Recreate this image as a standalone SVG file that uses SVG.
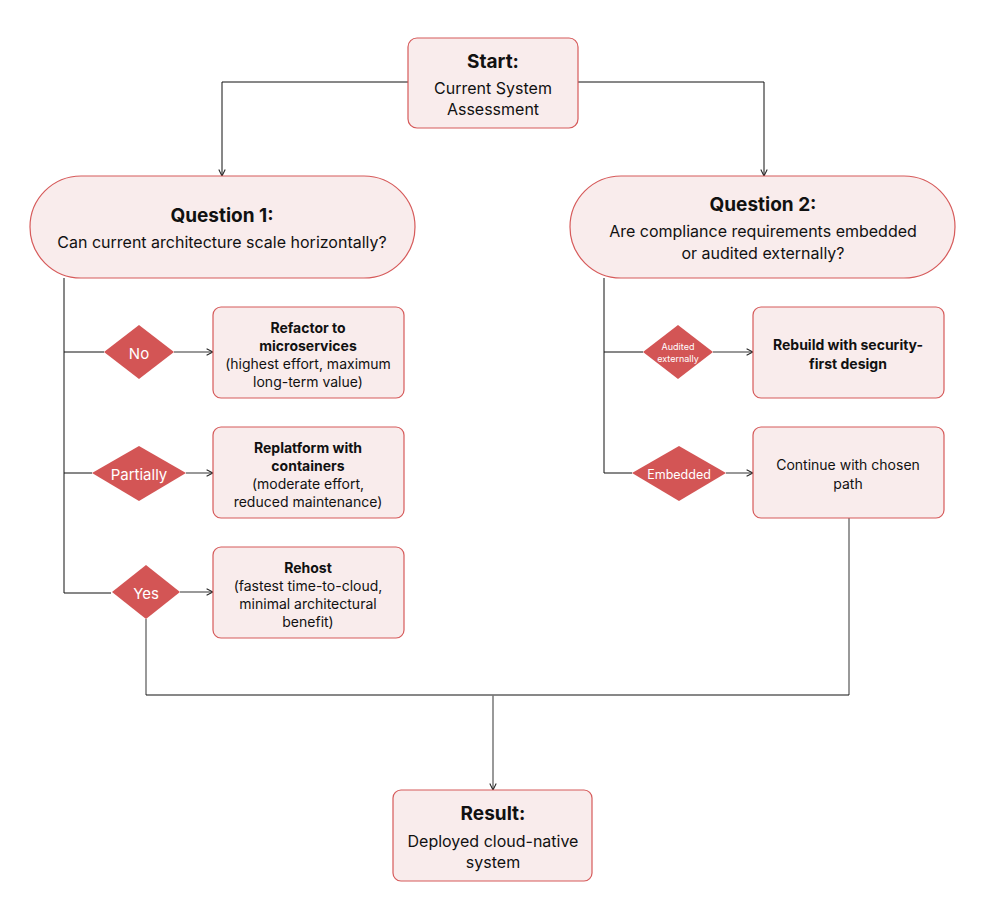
<svg xmlns="http://www.w3.org/2000/svg" width="985" height="919" viewBox="0 0 985 919">
<defs>
<style>
.box{fill:#f9ecec;stroke:#d65a5a;stroke-width:1.2}
.dia{fill:#d35555}
text{font-family:Inter,"DejaVu Sans",sans-serif;fill:#111;text-anchor:middle;dominant-baseline:central}
.t{font-size:19px;font-weight:700}
.s{font-size:16px}
.b{font-size:14px;font-weight:700}
.n{font-size:14px}
.dl{fill:#fff;font-size:15px}
.ln{fill:none;stroke:#111;stroke-width:1}
.gl{fill:none;stroke:#777;stroke-width:1.5}
</style>
<marker id="ar" viewBox="0 0 10 10" refX="9" refY="5" markerWidth="8" markerHeight="8" markerUnits="userSpaceOnUse" orient="auto">
<path d="M1,1 L9,5 L1,9" fill="none" stroke="#222" stroke-width="1.3"/>
</marker>
</defs>
<rect width="985" height="919" fill="#fff"/>
<g id="connectors">
<path class="ln" d="M408,82 H222 V176" marker-end="url(#ar)"/>
<path class="ln" d="M578,82 H764 V176" marker-end="url(#ar)"/>
<path class="ln" d="M64,278 V593 H111"/>
<path class="ln" d="M64,352 H104"/>
<path class="ln" d="M64,473 H92"/>
<path class="gl" d="M174,352 H213" marker-end="url(#ar)"/>
<path class="gl" d="M186,473 H213" marker-end="url(#ar)"/>
<path class="gl" d="M180,592 H213" marker-end="url(#ar)"/>
<path class="ln" d="M604,278 V473 H632"/>
<path class="ln" d="M604,352 H643"/>
<path class="gl" d="M713,352 H753" marker-end="url(#ar)"/>
<path class="gl" d="M726,473 H753" marker-end="url(#ar)"/>
<path class="gl" d="M146,619 V695"/>
<path class="gl" d="M849,518 V695"/>
<path class="ln" d="M146,695 H849"/>
<path class="gl" d="M493,695 V790" marker-end="url(#ar)"/>
</g>
<g id="start">
<rect class="box" x="408" y="38" width="170" height="90" rx="9"/>
<text class="t" x="493" y="61">Start:</text>
<text class="s" x="493" y="88">Current System</text>
<text class="s" x="493" y="109">Assessment</text>
</g>
<g id="q1">
<rect class="box" x="30" y="176" width="385" height="102" rx="51"/>
<text class="t" x="222" y="215">Question 1:</text>
<text class="s" x="222" y="242">Can current architecture scale horizontally?</text>
</g>
<g id="q2">
<rect class="box" x="570" y="176" width="385" height="102" rx="51"/>
<text class="t" x="763" y="204">Question 2:</text>
<text class="s" x="763" y="231">Are compliance requirements embedded</text>
<text class="s" x="763" y="253">or audited externally?</text>
</g>
<g id="d-no">
<polygon class="dia" points="139,325 174,352 139,379 104,352"/>
<text class="dl" x="139" y="353">No</text>
</g>
<g id="d-partially">
<polygon class="dia" points="139,446 186,473 139,501 92,473"/>
<text class="dl" x="139" y="474">Partially</text>
</g>
<g id="d-yes">
<polygon class="dia" points="146,565 180,592 146,619 112,592"/>
<text class="dl" x="146" y="593">Yes</text>
</g>
<g id="d-audited">
<polygon class="dia" points="678,325 713,352 678,379 643,352"/>
<text class="dl" x="678" y="346" style="font-size:9px">Audited</text>
<text class="dl" x="678" y="358" style="font-size:9px">externally</text>
</g>
<g id="d-embedded">
<polygon class="dia" points="679,446 726,473 679,501 632,473"/>
<text class="dl" x="679" y="474" style="font-size:12.5px">Embedded</text>
</g>
<g id="refactor">
<rect class="box" x="213" y="307" width="191" height="91" rx="8"/>
<text class="b" x="308" y="327">Refactor to</text>
<text class="b" x="308" y="345">microservices</text>
<text class="n" x="308" y="363">(highest effort, maximum</text>
<text class="n" x="308" y="381">long-term value)</text>
</g>
<g id="replatform">
<rect class="box" x="213" y="427" width="191" height="91" rx="8"/>
<text class="b" x="308" y="447">Replatform with</text>
<text class="b" x="308" y="465">containers</text>
<text class="n" x="308" y="483">(moderate effort,</text>
<text class="n" x="308" y="501">reduced maintenance)</text>
</g>
<g id="rehost">
<rect class="box" x="213" y="547" width="191" height="91" rx="8"/>
<text class="b" x="308" y="567">Rehost</text>
<text class="n" x="308" y="585">(fastest time-to-cloud,</text>
<text class="n" x="308" y="603">minimal architectural</text>
<text class="n" x="308" y="621">benefit)</text>
</g>
<g id="rebuild">
<rect class="box" x="753" y="307" width="191" height="91" rx="8"/>
<text class="b" x="848" y="344">Rebuild with security-</text>
<text class="b" x="848" y="363">first design</text>
</g>
<g id="continue">
<rect class="box" x="753" y="427" width="191" height="91" rx="8"/>
<text class="n" x="848" y="464">Continue with chosen</text>
<text class="n" x="848" y="483">path</text>
</g>
<g id="result">
<rect class="box" x="393" y="790" width="199" height="91" rx="8"/>
<text class="t" x="493" y="813">Result:</text>
<text class="s" x="493" y="841">Deployed cloud-native</text>
<text class="s" x="493" y="862">system</text>
</g>
</svg>
